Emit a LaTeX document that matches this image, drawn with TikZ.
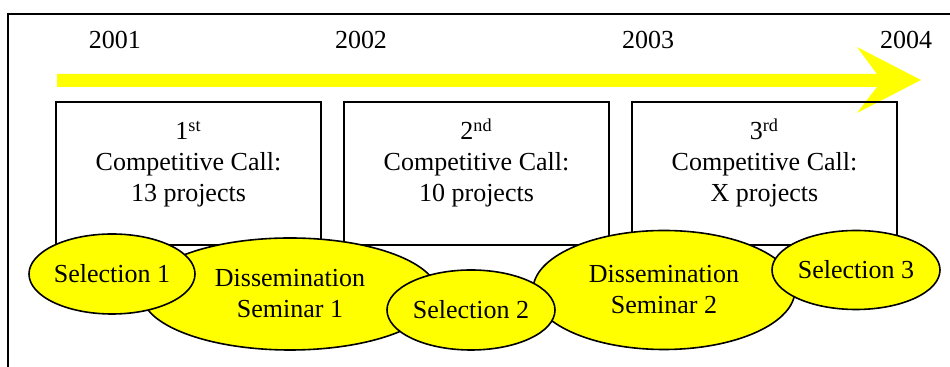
\documentclass[tikz,border=0pt]{standalone}
\usepackage{fontspec}
\setmainfont{Liberation Serif}
\usetikzlibrary{shapes.geometric}
\definecolor{brightyellow}{RGB}{255,255,0}

\begin{document}
\begin{tikzpicture}[x=0.5pt,y=-0.5pt,
  every node/.style={font=\fontsize{13}{15.5}\selectfont},
  yearlbl/.style={anchor=base, inner sep=0pt},
  callbox/.style={draw, line width=0.7pt, minimum width=132.5pt, minimum height=71.5pt, inner sep=0pt},
  calltext/.style={anchor=base, align=center, inner sep=0pt},
  phase/.style={ellipse, draw, line width=0.8pt, fill=brightyellow, inner sep=0pt, align=center}]
\useasboundingbox (0,0) rectangle (950,367);
%frame
\draw[line width=0.7pt] (8,367) -- (8,14) -- (950,14);
%yr labels
\foreach \x/\descr in {115/2001,361/2002,648/2003,906/2004}
\node[yearlbl] (yr\descr) at (\x,49) {\descr};
%time arrow
\fill[brightyellow] (57,74) -- (877,74) -- (857,47) -- (921,80) -- (857,113) -- (877,87) -- (57,87) -- cycle;
%calls
\foreach \n/\x/\sfx/\nproj in {1/188.5/st/13,2/476.5/nd/10,3/764.5/rd/X}
{
\node[callbox] (call\n) at (\x,173.5) {};
\node[calltext] (calltext\n) at (\x,202) {\n\textsuperscript{\sfx}\\Competitive Call:\\\nproj\ projects};
}
%seminars
\node[phase, minimum width=148pt, minimum height=56pt] (diss1) at (290,294) {Dissemination\\Seminar 1};
\node[phase, minimum width=131pt, minimum height=59.5pt] (diss2) at (664,290) {Dissemination\\Seminar 2};
%selections
\node[phase, minimum width=83pt, minimum height=40pt] (sel1) at (112,274) {Selection 1};
\node[phase, minimum width=84pt, minimum height=40pt] (sel2) at (471,310) {Selection 2};
\node[phase, minimum width=84pt, minimum height=39.5pt] (sel3) at (856,270) {Selection 3};
\end{tikzpicture}
\end{document}
